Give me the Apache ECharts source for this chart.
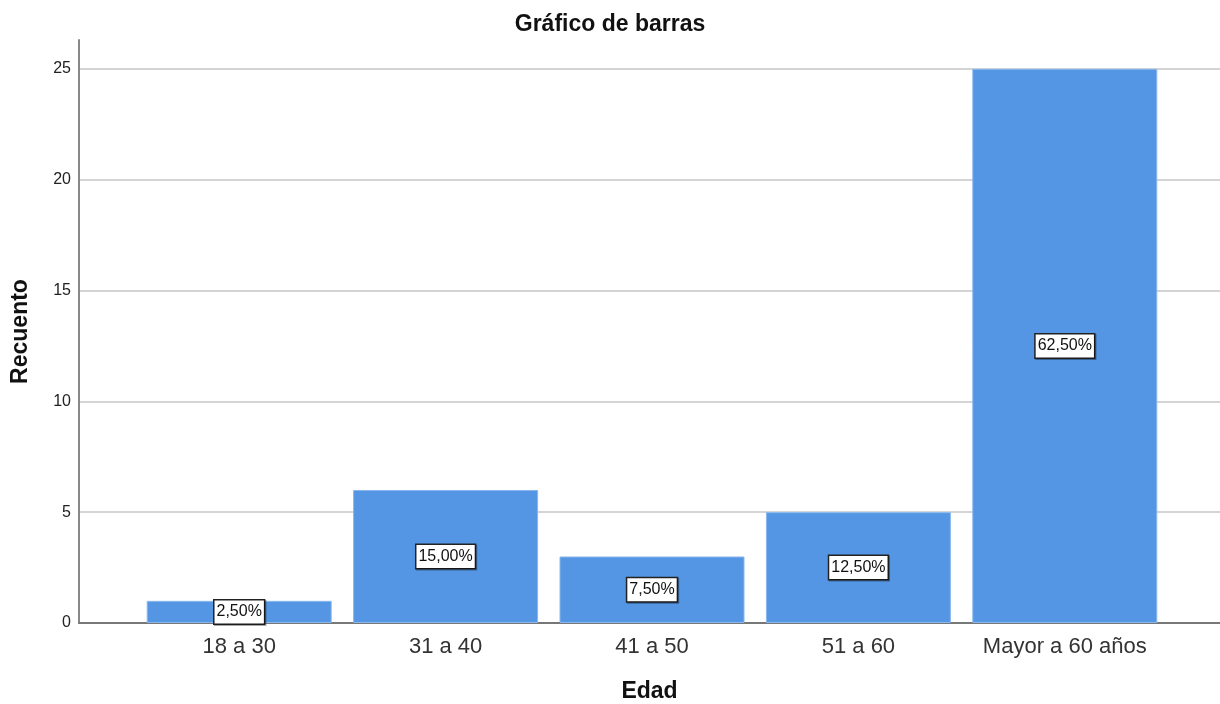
<!DOCTYPE html>
<html>
<head>
<meta charset="utf-8">
<script src="https://cdn.jsdelivr.net/npm/echarts@6/dist/echarts.min.js"></script>
<style>
	html, body { margin: 0; padding: 0; background: #fff; }
	#chart { width: 1220px; height: 704px; }
</style>
</head>
<body>
<div id="chart"></div>
<script>
var categories = ['18 a 30', '31 a 40', '41 a 50', '51 a 60', 'Mayor a 60 años'];
var counts = [1, 6, 3, 5, 25];
var percents = ['2,50%', '15,00%', '7,50%', '12,50%', '62,50%'];

var font = 'Arial, "Liberation Sans", sans-serif';
var yMax = 26.3;

var myChart = echarts.init(document.getElementById('chart'));
myChart.setOption({
	animation : false,
	title : {
		text : 'Gráfico de barras',
		left : 'center',
		top : 8,
		textStyle : { fontFamily : font, fontSize : 23, fontWeight : 'bold', color : '#111' }
	},
	grid : [
		{ left : 79, right : 0, top : 40, bottom : 81, outerBoundsMode : 'none', containLabel : false },
		{ left : 136, right : 52, top : 40, bottom : 81, outerBoundsMode : 'none', containLabel : false }
	],
	xAxis : [{
		type : 'value',
		gridIndex : 0,
		min : 0,
		max : 1,
		axisLine : { show : true, onZero : false, lineStyle : { color : '#777', width : 2 } },
		axisTick : { show : false },
		axisLabel : { show : false },
		splitLine : { show : false },
		name : 'Edad',
		nameLocation : 'middle',
		nameGap : 57,
		nameTextStyle : { fontFamily : font, fontSize : 23, fontWeight : 'bold', color : '#111' }
	}, {
		type : 'category',
		gridIndex : 1,
		data : categories,
		axisLine : { show : false },
		axisTick : { show : false },
		axisLabel : { interval : 0, hideOverlap : false, fontFamily : font, fontSize : 22, color : '#333', margin : 13 }
	}],
	yAxis : [{
		type : 'value',
		gridIndex : 0,
		min : 0,
		max : yMax,
		interval : 5,
		axisLine : { show : true, lineStyle : { color : '#888', width : 2 } },
		axisTick : { show : false },
		axisLabel : { fontFamily : font, fontSize : 16, color : '#222', margin : 8, showMaxLabel : false },
		splitLine : { show : true, showMaxLine : false, showMinLine : false, lineStyle : { color : '#d4d4d4', width : 2 } },
		name : 'Recuento',
		nameLocation : 'middle',
		nameGap : 47,
		nameTextStyle : { fontFamily : font, fontSize : 23, fontWeight : 'bold', color : '#111' }
	}, {
		type : 'value',
		gridIndex : 1,
		min : 0,
		max : yMax,
		show : false,
		splitLine : { show : false }
	}],
	series : [{
		type : 'bar',
		xAxisIndex : 1,
		yAxisIndex : 1,
		data : counts,
		barWidth : 185,
		itemStyle : { color : '#5496e3', borderColor : '#8ab8ee', borderWidth : 1 },
		label : {
			show : true,
			position : 'inside',
			formatter : function(p) { return percents[p.dataIndex]; },
			fontFamily : font,
			fontSize : 16,
			color : '#111',
			backgroundColor : '#fff',
			borderColor : '#222',
			borderWidth : 1.5,
			padding : [4, 2, 3, 2],
			shadowColor : 'rgba(0,0,0,0.35)',
			shadowOffsetX : 1,
			shadowOffsetY : 1
		}
	}]
});
</script>
</body>
</html>
